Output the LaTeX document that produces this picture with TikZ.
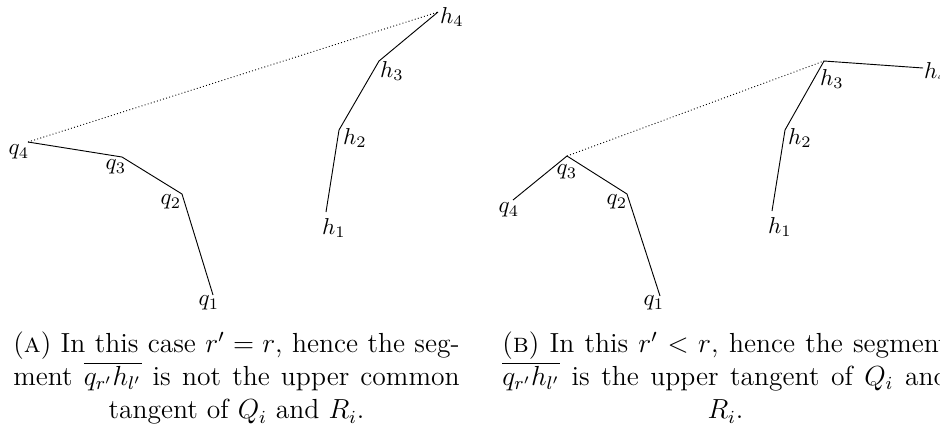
\documentclass[tikz,border=0pt]{standalone}
\usepackage{tikz}
\usetikzlibrary{positioning}
\newcommand{\lastcentred}{\leftskip=0pt plus 1fil\rightskip=0pt plus -1fil\parfillskip=0pt plus 2fil}

\begin{document}
\begin{tikzpicture}[x=0.4348pt, y=-0.4348pt, hull/.style={line width=0.4pt}, tang/.style={densely dotted, line width=0.4pt}, lbl/.style={inner sep=0pt, font=\fontsize{10}{12}\selectfont}, subcap/.style={inner sep=0pt, anchor=north, font=\fontsize{12}{14.5}\selectfont}]
\useasboundingbox (0,0) rectangle (940,424);
\clip (0,0) rectangle (940,424);
% (a) r' = r
\coordinate (aq4) at (28,142); \coordinate (aq3) at (122,157); \coordinate (aq2) at (182,194); \coordinate (aq1) at (213,295);
\coordinate (ah1) at (326,212); \coordinate (ah2) at (339,130); \coordinate (ah3) at (379,61); \coordinate (ah4) at (438,12);
\draw[hull] (aq1)--(aq2)--(aq3)--(aq4);
\draw[hull] (ah1)--(ah2)--(ah3)--(ah4);
\draw[tang] (aq4)--(ah4);
\node[lbl] (aq4l) at (19,152) {$q_4$}; \node[lbl] (aq3l) at (116,167) {$q_3$}; \node[lbl] (aq2l) at (171,202) {$q_2$}; \node[lbl] (aq1l) at (209,303) {$q_1$};
\node[lbl] (ah1l) at (334,228) {$h_1$}; \node[lbl] (ah2l) at (355,138) {$h_2$}; \node[lbl] (ah3l) at (392,71) {$h_3$}; \node[lbl] (ah4l) at (452,17) {$h_4$};
\node[subcap] (capa) at (236.5,331) {\parbox{194pt}{\lastcentred(\textsc{a}) In this case $r' = r$, hence the seg-\linebreak ment $\overline{q_{r'}h_{l'}}$ is not the upper common\linebreak tangent of $Q_i$ and $R_i$.}};
% (b) r' < r
\coordinate (bq4) at (513,200); \coordinate (bq3) at (567,156); \coordinate (bq2) at (627,194); \coordinate (bq1) at (660,296);
\coordinate (bh1) at (772,211); \coordinate (bh2) at (785,130); \coordinate (bh3) at (824,61); \coordinate (bh4) at (923,68);
\draw[hull] (bq1)--(bq2)--(bq3)--(bq4);
\draw[hull] (bh1)--(bh2)--(bh3)--(bh4);
\draw[tang] (bq3)--(bh3);
\node[lbl] (bq4l) at (509,210) {$q_4$}; \node[lbl] (bq3l) at (567,172) {$q_3$}; \node[lbl] (bq2l) at (617,202) {$q_2$}; \node[lbl] (bq1l) at (654,303) {$q_1$};
\node[lbl] (bh1l) at (780,227) {$h_1$}; \node[lbl] (bh2l) at (800,138) {$h_2$}; \node[lbl] (bh3l) at (832,79) {$h_3$}; \node[lbl] (bh4l) at (936,72) {$h_4$};
\node[subcap] (capb) at (725.5,331) {\parbox{194pt}{\lastcentred(\textsc{b}) In this $r' < r$, hence the segment\linebreak $\overline{q_{r'}h_{l'}}$ is the upper tangent of $Q_i$ and\linebreak $R_i$.}};
\end{tikzpicture}
\end{document}
